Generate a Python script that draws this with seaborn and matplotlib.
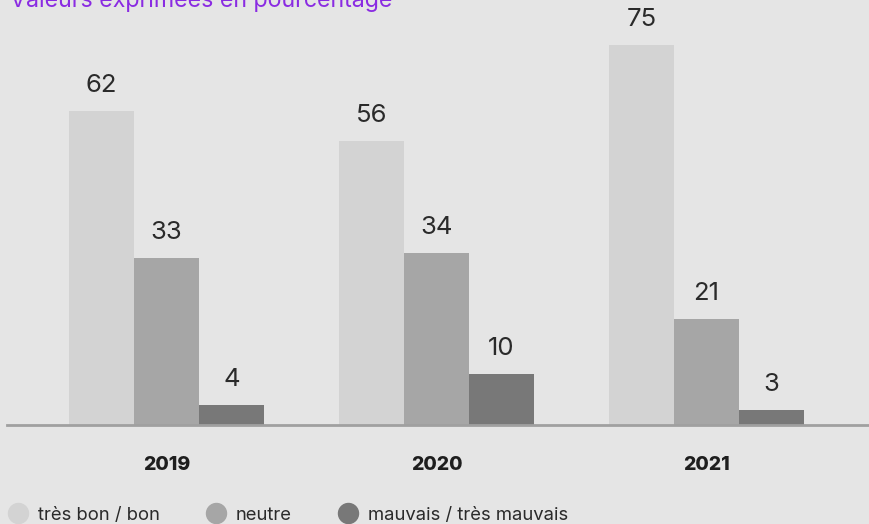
import matplotlib
matplotlib.use("Agg")
import matplotlib.pyplot as plt
from matplotlib.lines import Line2D
import seaborn as sns
import pandas as pd

# data
years = ["2019", "2020", "2021"]
categories = ["très bon / bon", "neutre", "mauvais / très mauvais"]
tres_bon = [62, 56, 75]
neutre = [33, 34, 21]
mauvais = [4, 10, 3]
title = "Valeurs exprimées en pourcentage"

colors = ["#d3d3d3", "#a6a6a6", "#787878"]
bg = "#e5e5e5"

df = pd.DataFrame({
    "year": years * 3,
    "cat": [categories[0]] * 3 + [categories[1]] * 3 + [categories[2]] * 3,
    "value": tres_bon + neutre + mauvais,
})

sns.set_theme(style="white")
plt.rcParams["font.family"] = ["Inter", "DejaVu Sans"]

W, H = 869, 524
fig = plt.figure(figsize=(W / 100, H / 100), dpi=100, facecolor=bg)
ax = fig.add_axes([7 / W, 99 / H, 1 - 7 / W, 1 - 99 / H])
ax.set_facecolor(bg)

sns.barplot(data=df, x="year", y="value", hue="cat", hue_order=categories,
            palette=colors, width=0.722, saturation=1, legend=False,
            linewidth=0, ax=ax)

# value labels above each bar
for cont in ax.containers:
    ax.bar_label(cont, padding=10, fontsize=18.5, color="#2a2a2a")

ax.set_xlim((7 - 166.5) / 270, (W - 166.5) / 270)
ax.set_ylim(0, 425 / 5.065)
ax.set_xlabel("")
ax.set_ylabel("")
ax.set_yticks([])
ax.tick_params(axis="x", length=0, pad=22, labelsize=14)
for lab in ax.get_xticklabels():
    lab.set_fontweight("heavy")
    lab.set_color("#1e1e1e")
for s in ["top", "right", "left"]:
    ax.spines[s].set_visible(False)
ax.spines["bottom"].set_color("#a0a0a0")
ax.spines["bottom"].set_linewidth(2)

fig.text(10 / W, 1.0, title, color="#8a2be2", fontsize=16.7, va="center", ha="left")

handles = [Line2D([], [], marker="o", linestyle="", markersize=14.4,
                  markerfacecolor=c, markeredgecolor=c) for c in colors]
fig.legend(handles, categories, loc="center left", bbox_to_anchor=(8 / W, 9 / H),
           ncol=3, frameon=False, fontsize=13.3, handletextpad=0.54,
           columnspacing=2.5, handlelength=1.08, borderpad=0, borderaxespad=0,
           labelcolor="#2a2a2a")

fig.savefig("out.png", dpi=100, facecolor=bg)
